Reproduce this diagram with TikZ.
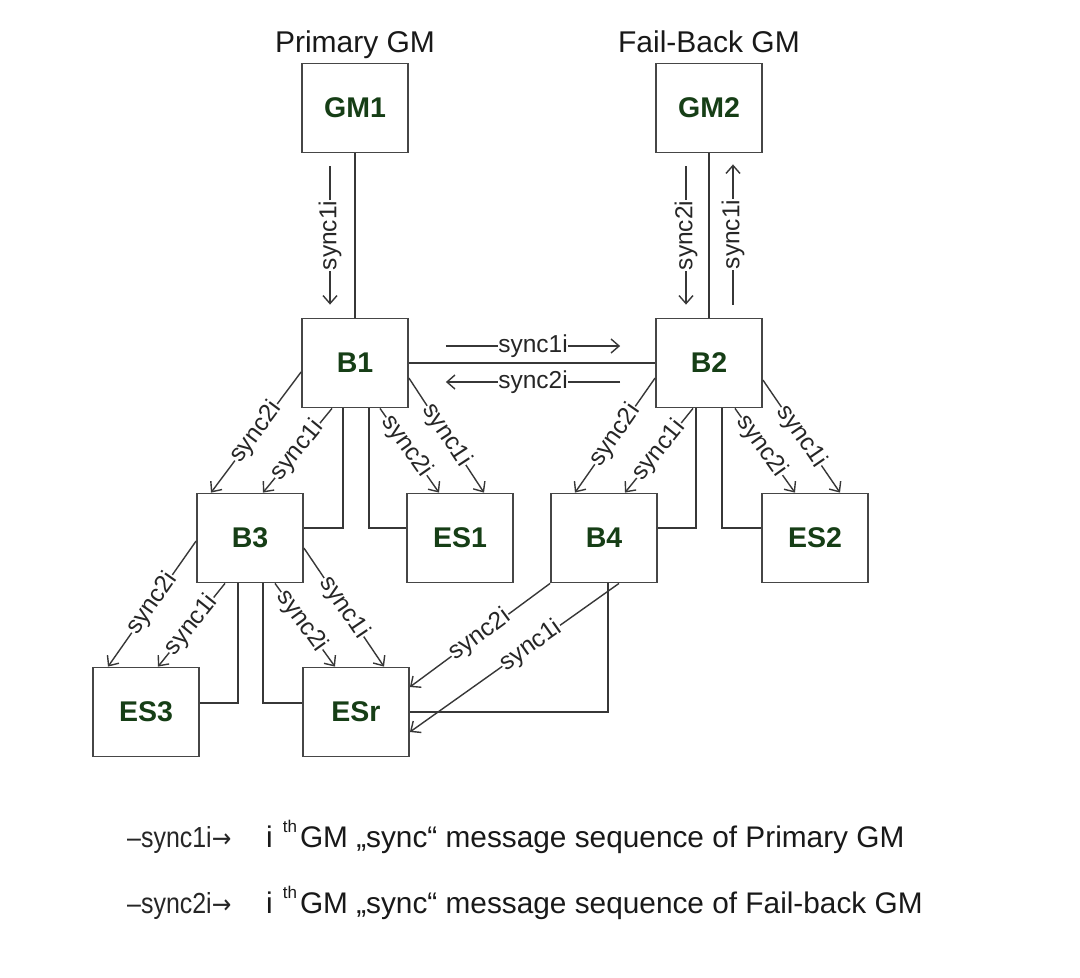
\documentclass[tikz,border=0pt]{standalone}
\usepackage{fontspec}
\setmainfont{Liberation Sans}
\newfontfamily\narrowfont[FakeStretch=0.86]{Liberation Sans}
\newfontfamily\symfont[FakeStretch=0.9]{DejaVu Sans}
\usetikzlibrary{arrows.meta}
\definecolor{boxtext}{RGB}{22,62,22}
\definecolor{linec}{RGB}{55,55,55}
\definecolor{boxline}{RGB}{70,70,70}
\begin{document}
\begin{tikzpicture}[x=1pt,y=-1pt,
  box/.style={draw=boxline, line width=1.8pt, minimum width=106pt, minimum height=89pt, inner sep=0pt,
    font=\fontsize{28.5}{30}\selectfont\bfseries, text=boxtext},
  link/.style={draw=linec, line width=1.4pt},
  msg/.style={draw=linec, line width=1.4pt, -{Straight Barb[length=8pt,width=14pt]}},
  lbl/.style={fill=white, inner sep=0.5pt, font=\fontsize{24.5}{25}\selectfont, text=black!85},
  title/.style={font=\fontsize{30}{32}\selectfont, text=black!90, anchor=base},
  legkey/.style={font=\narrowfont\fontsize{29}{30}\selectfont, text=black!85, anchor=base west, inner sep=0pt},
  legtext/.style={font=\fontsize{29.8}{31}\selectfont, text=black!90, anchor=base west, inner sep=0pt}
]
\useasboundingbox[fill=white] (0,0) rectangle (1080,978);

% titles
\node[title] (t1) at (355,52) {Primary GM};
\node[title] (t2) at (709,52) {Fail-Back GM};

% boxes
\node[box] (GM1) at (355,108) {GM1};
\node[box] (GM2) at (709,108) {GM2};
\node[box] (B1)  at (355,363) {B1};
\node[box] (B2)  at (709,363) {B2};
\node[box] (B3)  at (250,538) {B3};
\node[box] (ES1) at (460,538) {ES1};
\node[box] (B4)  at (604,538) {B4};
\node[box] (ES2) at (815,538) {ES2};
\node[box] (ES3) at (146,712) {ES3};
\node[box] (ESr) at (356,712) {ESr};

% physical links
\draw[link] (GM1.south) -- (B1.north);
\draw[link] (GM2.south) -- (B2.north);
\draw[link] (B1.east) -- (B2.west);
\draw[link] ([xshift=-12pt]B1.south) |- ([yshift=10pt]B3.east);
\draw[link] ([xshift=14pt]B1.south) |- ([yshift=10pt]ES1.west);
\draw[link] ([xshift=-13pt]B2.south) |- ([yshift=10pt]B4.east);
\draw[link] ([xshift=13pt]B2.south) |- ([yshift=10pt]ES2.west);
\draw[link] ([xshift=-12pt]B3.south) |- ([yshift=9pt]ES3.east);
\draw[link] ([xshift=13pt]B3.south) |- ([yshift=9pt]ESr.west);
\draw[link] ([xshift=4pt]B4.south) |- (ESr.east);

% GM message arrows
\draw[msg] ([xshift=-25pt,yshift=-13pt]GM1.south) -- node[lbl,rotate=90]{sync1i} ([xshift=-25pt,yshift=13pt]B1.north);
\draw[msg] ([xshift=-23pt,yshift=-13pt]GM2.south) -- node[lbl,rotate=90]{sync2i} ([xshift=-23pt,yshift=13pt]B2.north);
\draw[msg] ([xshift=24pt,yshift=13pt]B2.north) -- node[lbl,rotate=90]{sync1i} ([xshift=24pt,yshift=-11pt]GM2.south);

% B1 <-> B2
\draw[msg] ([xshift=37pt,yshift=17pt]B1.east) -- node[lbl]{sync1i} ([xshift=-35pt,yshift=17pt]B2.west);
\draw[msg] ([xshift=-35pt,yshift=-19pt]B2.west) -- node[lbl]{sync2i} ([xshift=37pt,yshift=-19pt]B1.east);

% B1 downstream
\draw[msg] ([yshift=-9pt]B1.west) -- node[lbl,sloped]{sync2i} ([xshift=-39pt]B3.north);
\draw[msg] ([xshift=-23pt]B1.south) -- node[lbl,sloped]{sync1i} ([xshift=13pt]B3.north);
\draw[msg] ([xshift=25pt]B1.south) -- node[lbl,sloped,pos=0.45]{sync2i} ([xshift=-21pt]ES1.north);
\draw[msg] ([yshift=-15pt]B1.east) -- node[lbl,sloped]{sync1i} ([xshift=24pt]ES1.north);

% B2 downstream
\draw[msg] ([yshift=-15pt]B2.west) -- node[lbl,sloped]{sync2i} ([xshift=-29pt]B4.north);
\draw[msg] ([xshift=-16pt]B2.south) -- node[lbl,sloped]{sync1i} ([xshift=21pt]B4.north);
\draw[msg] ([xshift=26pt]B2.south) -- node[lbl,sloped,pos=0.45]{sync2i} ([xshift=-20pt]ES2.north);
\draw[msg] ([yshift=-17pt]B2.east) -- node[lbl,sloped]{sync1i} ([xshift=25pt]ES2.north);

% B3 downstream
\draw[msg] ([yshift=-3pt]B3.west) -- node[lbl,sloped]{sync2i} ([xshift=-38pt]ES3.north);
\draw[msg] ([xshift=-25pt]B3.south) -- node[lbl,sloped]{sync1i} ([xshift=12pt]ES3.north);
\draw[msg] ([xshift=25pt]B3.south) -- node[lbl,sloped,pos=0.45]{sync2i} ([xshift=-21pt]ESr.north);
\draw[msg] ([yshift=-10pt]B3.east) -- node[lbl,sloped]{sync1i} ([xshift=28pt]ESr.north);

% B4 downstream
\draw[msg] (B4.south west) -- node[lbl,sloped]{sync2i} ([yshift=25pt]ESr.east);
\draw[msg] ([xshift=15pt]B4.south) -- node[lbl,sloped,pos=0.42]{sync1i} ([yshift=-20pt]ESr.east);

% legend
\node[legkey] (k1) at (127,847) {–sync1i{\symfont\fontsize{26}{26}\selectfont →}};
\node[legtext] (d1) at (266,847) {i\hspace{10pt}\raisebox{15pt}{\fontsize{17}{17}\selectfont th}\hspace{3pt}GM „sync“ message sequence of Primary GM};
\node[legkey] (k2) at (127,913) {–sync2i{\symfont\fontsize{26}{26}\selectfont →}};
\node[legtext] (d2) at (266,913) {i\hspace{10pt}\raisebox{15pt}{\fontsize{17}{17}\selectfont th}\hspace{3pt}GM „sync“ message sequence of Fail-back GM};
\end{tikzpicture}
\end{document}
